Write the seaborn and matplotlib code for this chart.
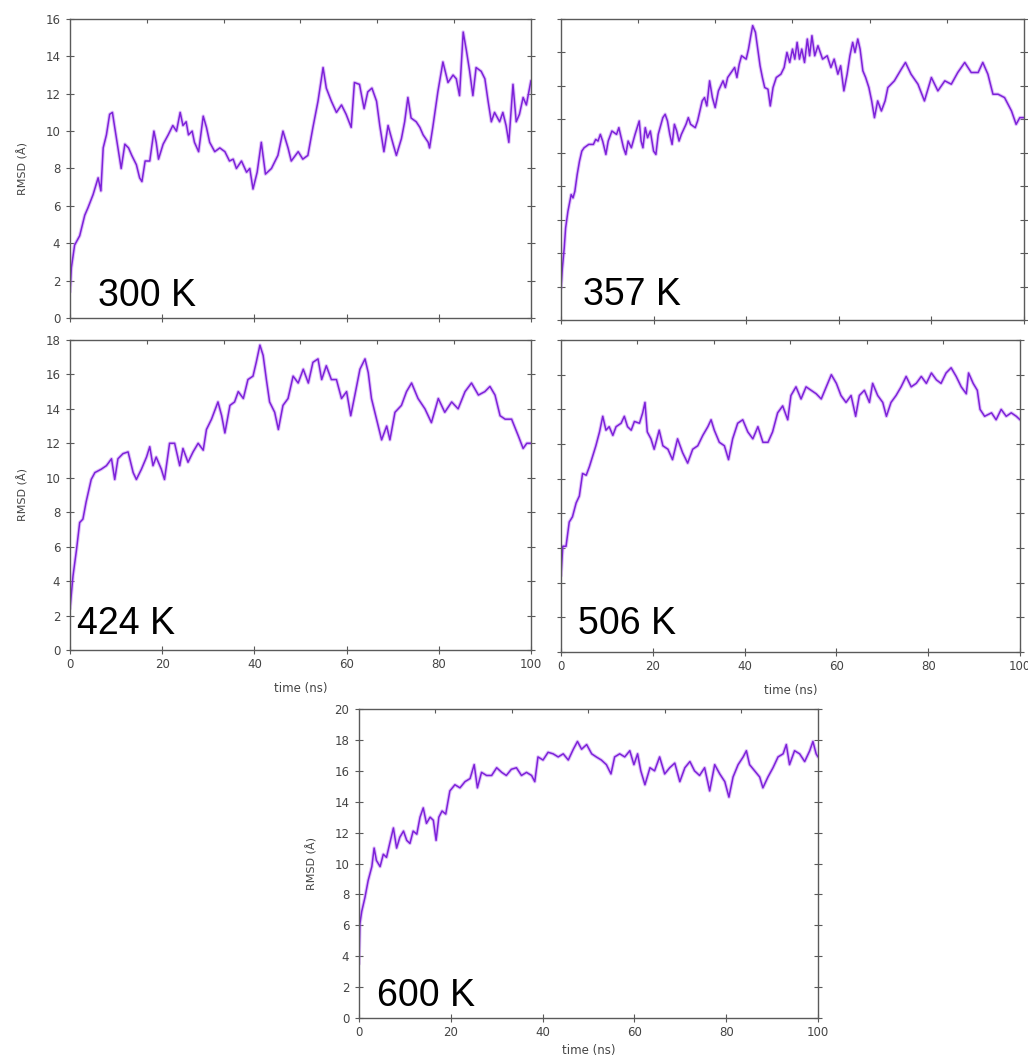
import matplotlib
matplotlib.use("Agg")
import matplotlib.pyplot as plt
import seaborn as sns

# ---- RMSD traces (time in ns, RMSD in Å) ----
t_300 = [0, 0.3, 1.0, 2.1, 3.2, 3.9, 5.0, 6.1, 6.7, 7.2, 7.9, 8.6, 9.2, 9.7, 10.4, 11.1, 11.9, 12.7,
         13.4, 14.4, 15.1, 15.6, 16.3, 17.3, 18.2, 18.7, 19.2, 20.2, 21.3, 22.3, 23.1, 23.9, 24.5,
         25.2, 25.7, 26.5, 27.0, 27.9, 28.9, 29.6, 30.3, 31.4, 32.5, 33.6, 34.6, 35.4, 36.1, 37.2,
         38.3, 39.0, 39.7, 40.6, 41.5, 42.4, 43.7, 45.1, 46.2, 47.3, 48.0, 49.5, 50.5, 51.6, 52.7,
         53.8, 54.9, 55.6, 56.7, 57.8, 58.9, 59.9, 61.0, 61.7, 62.8, 63.8, 64.6, 65.5, 66.5, 67.2,
         68.1, 69.0, 70.1, 70.8, 71.9, 72.6, 73.3, 74.0, 75.1, 75.9, 76.6, 77.7, 78.0, 78.7, 79.8,
         80.9, 82.0, 83.1, 83.8, 84.5, 85.3, 86.0, 86.7, 87.4, 88.1, 89.2, 90.0, 90.7, 91.4, 92.1,
         93.2, 93.9, 94.6, 95.2, 96.1, 96.8, 97.5, 98.3, 99.0, 100]
rmsd_300 = [1.4, 2.7, 3.9, 4.4, 5.5, 5.9, 6.6, 7.5, 6.8, 9.1, 9.8, 10.9, 11.0, 10.2, 9.1, 8.0, 9.3, 9.1,
            8.7, 8.2, 7.5, 7.3, 8.4, 8.4, 10.0, 9.4, 8.5, 9.3, 9.8, 10.3, 10.0, 11.0, 10.3,
            10.5, 9.8, 10.0, 9.4, 8.9, 10.8, 10.2, 9.4, 8.9, 9.1, 8.9, 8.4, 8.5, 8.0, 8.4,
            7.8, 8.0, 6.9, 7.8, 9.4, 7.7, 8.0, 8.7, 10.0, 9.1, 8.4, 8.9, 8.5, 8.7, 10.2,
            11.6, 13.4, 12.3, 11.6, 11.0, 11.4, 10.9, 10.2, 12.6, 12.5, 11.2, 12.1, 12.3, 11.6, 10.3,
            8.9, 10.3, 9.3, 8.7, 9.6, 10.5, 11.8, 10.7, 10.5, 10.2, 9.8, 9.4, 9.1, 10.2, 12.1,
            13.7, 12.6, 13.0, 12.8, 11.9, 15.3, 14.3, 13.2, 11.9, 13.4, 13.2, 12.8, 11.6, 10.5, 11.0,
            10.5, 11.0, 10.3, 9.4, 12.5, 10.5, 10.9, 11.8, 11.4, 12.7]

t_357 = [0, 0.3, 0.7, 1.0, 1.5, 2.2, 2.6, 3.0, 3.5, 4.0, 4.5, 5.0, 6.0, 7.0, 7.5, 8.0, 8.5, 9.0, 9.7,
         10.2, 11.0, 12.0, 12.5, 13.0, 13.5, 14.0, 14.5, 15.2, 16.0, 16.9, 17.3, 17.7, 18.2, 18.7,
         19.3, 20.0, 20.5, 21.0, 22.0, 22.5, 23.0, 23.5, 24.0, 24.5, 25.0, 25.5, 26.0, 27.0, 27.5,
         28.0, 29.0, 29.5, 30.0, 30.5, 31.0, 31.5, 32.1, 32.7, 33.3, 34.0, 35.0, 35.5, 36.0, 37.0,
         37.5, 38.0, 38.5, 39.0, 40.0, 40.5, 41.0, 41.4, 42.0, 42.5, 43.0, 43.5, 44.0, 44.7, 45.2,
         45.8, 46.5, 47.5, 48.2, 48.8, 49.4, 50.0, 50.5, 51.0, 51.5, 52.0, 52.6, 53.2, 53.7, 54.2,
         54.8, 55.5, 56.5, 57.5, 58.3, 59.0, 59.8, 60.4, 61.1, 61.8, 62.4, 63.0, 63.5, 64.1, 64.6,
         65.2, 65.8, 66.5, 67.1, 67.7, 68.4, 69.2, 70.0, 70.6, 72.0, 73.5, 74.4, 75.6, 77.1, 78.5,
         80.0, 81.4, 82.9, 84.3, 85.7, 87.2, 88.6, 90.1, 91.1, 92.2, 93.3, 94.4, 95.8, 97.3, 98.3,
         99.1, 100]
rmsd_357 = [1.9, 3.1, 4.3, 5.5, 6.5, 7.5, 7.3, 7.7, 8.7, 9.5, 10.1, 10.3, 10.5, 10.5, 10.8, 10.7, 11.1, 10.7, 9.9,
            10.7, 11.3, 11.1, 11.5, 10.9, 10.3, 9.9, 10.7, 10.3, 11.1, 11.9, 10.7, 10.3, 11.5, 10.9,
            11.3, 10.1, 9.9, 11.1, 12.1, 12.3, 11.9, 11.1, 10.5, 11.7, 11.3, 10.7, 11.1, 11.7, 12.1,
            11.7, 11.5, 11.9, 12.5, 13.1, 13.3, 12.8, 14.3, 13.3, 12.7, 13.7, 14.3, 13.9, 14.5, 14.9,
            15.1, 14.5, 15.3, 15.8, 15.6, 16.2, 17.0, 17.6, 17.2, 16.2, 15.2, 14.5, 13.9, 13.8, 12.8,
            13.9, 14.5, 14.7, 15.1, 16.0, 15.4, 16.2, 15.6, 16.6, 15.6, 16.2, 15.4, 16.8, 15.8, 17.0,
            15.8, 16.4, 15.6, 15.8, 15.1, 15.6, 14.7, 15.2, 13.7, 14.7, 15.8, 16.6, 16.0, 16.8, 16.2,
            14.9, 14.5, 13.9, 13.1, 12.1, 13.1, 12.5, 13.1, 13.9, 14.3, 15.0, 15.4, 14.7, 14.1, 13.1,
            14.5, 13.7, 14.3, 14.1, 14.8, 15.4, 14.8, 14.8, 15.4, 14.7, 13.5, 13.5, 13.3, 12.5, 11.7,
            12.1, 12.1]

t_424 = [0, 0.65, 1.4, 2.1, 2.8, 3.5, 4.6, 5.4, 6.8, 7.9, 9.0, 9.7, 10.4, 11.5, 12.6, 13.7, 14.4, 15.5,
         16.6, 17.3, 18.0, 18.7, 19.8, 20.5, 21.6, 22.7, 23.8, 24.5, 25.6, 26.7, 27.8, 28.9, 29.6,
         30.7, 32.1, 32.9, 33.6, 34.7, 35.7, 36.5, 37.6, 38.6, 39.7, 40.4, 41.2, 41.9, 42.6, 43.3,
         44.4, 45.2, 46.2, 47.3, 48.4, 49.5, 50.6, 51.7, 52.7, 53.8, 54.6, 55.6, 56.7, 57.8, 58.9,
         60.0, 60.9, 61.8, 62.9, 64.0, 64.7, 65.4, 66.5, 67.6, 68.7, 69.4, 70.5, 71.9, 73.0, 74.1,
         75.5, 77.0, 78.4, 79.9, 81.3, 82.8, 84.2, 85.7, 87.1, 88.6, 90.0, 91.1, 92.2, 93.3, 94.4,
         95.8, 97.3, 98.3, 99.1, 100]
rmsd_424 = [2.4, 4.3, 5.8, 7.4, 7.6, 8.6, 9.9, 10.3, 10.5, 10.7, 11.1, 9.9, 11.1, 11.4, 11.5, 10.3, 9.9, 10.5,
            11.2, 11.8, 10.7, 11.2, 10.5, 9.9, 12.0, 12.0, 10.7, 11.7, 10.9, 11.5, 12.0, 11.6, 12.8,
            13.4, 14.4, 13.6, 12.6, 14.2, 14.4, 15.0, 14.6, 15.7, 15.9, 16.7, 17.7, 17.1, 15.7, 14.4,
            13.8, 12.8, 14.2, 14.6, 15.9, 15.5, 16.3, 15.5, 16.7, 16.9, 15.7, 16.5, 15.7, 15.7, 14.6,
            15.0, 13.6, 14.8, 16.3, 16.9, 16.1, 14.6, 13.4, 12.2, 13.0, 12.2, 13.8, 14.2, 15.0, 15.5,
            14.6, 14.0, 13.2, 14.6, 13.8, 14.4, 14.0, 15.0, 15.5, 14.8, 15.0, 15.3, 14.8, 13.6, 13.4,
            13.4, 12.4, 11.7, 12.0, 12.0]

t_506 = [0, 0.4, 1.1, 1.8, 2.5, 3.3, 4.0, 4.7, 5.5, 6.2, 6.9, 7.6, 8.4, 9.1, 9.8, 10.5, 11.3, 12.0,
         13.1, 13.8, 14.5, 15.3, 16.0, 17.1, 17.8, 18.3, 18.8, 19.6, 20.3, 21.4, 22.2, 23.3, 24.3,
         25.4, 26.5, 27.6, 28.7, 29.8, 30.9, 32.0, 32.7, 33.4, 34.5, 35.6, 36.5, 37.4, 38.5, 39.6,
         40.7, 41.8, 42.9, 44.0, 45.1, 46.1, 47.2, 48.3, 49.4, 50.1, 51.2, 52.3, 53.4, 54.5, 55.6,
         56.7, 57.8, 58.9, 60.0, 61.0, 62.1, 63.2, 64.2, 65.0, 66.1, 67.2, 67.9, 69.0, 70.1, 70.9,
         71.9, 73.0, 74.1, 75.2, 76.3, 77.4, 78.5, 79.6, 80.7, 81.8, 82.8, 83.9, 85.0, 86.1, 87.2,
         88.3, 88.8, 89.8, 90.7, 91.3, 92.3, 93.8, 94.8, 95.9, 97.0, 98.1, 99.2, 100]
rmsd_506 = [4.4, 6.1, 6.1, 7.5, 7.8, 8.6, 9.0, 10.3, 10.2, 10.7, 11.3, 11.9, 12.7, 13.6, 12.8, 13.0, 12.5, 13.0,
            13.2, 13.6, 13.0, 12.8, 13.3, 13.2, 13.8, 14.4, 12.7, 12.3, 11.7, 12.8, 11.9, 11.7, 11.1,
            12.3, 11.5, 10.9, 11.7, 11.9, 12.5, 13.0, 13.4, 12.8, 12.1, 11.9, 11.1, 12.3, 13.2, 13.4,
            12.7, 12.3, 13.0, 12.1, 12.1, 12.7, 13.8, 14.2, 13.4, 14.8, 15.3, 14.6, 15.3, 15.1, 14.9,
            14.6, 15.3, 16.0, 15.5, 14.8, 14.4, 14.8, 13.6, 14.8, 15.1, 14.4, 15.5, 14.8, 14.4, 13.6,
            14.4, 14.8, 15.3, 15.9, 15.3, 15.5, 15.9, 15.5, 16.1, 15.7, 15.5, 16.1, 16.4, 15.9, 15.3,
            14.9, 16.1, 15.5, 15.1, 14.0, 13.6, 13.8, 13.4, 14.0, 13.6, 13.8, 13.6, 13.4]

t_600 = [0, 0.2, 0.6, 1.3, 2.0, 2.8, 3.3, 3.8, 4.6, 5.3, 6.0, 6.7, 7.5, 8.2, 8.9, 9.7, 10.4, 11.1,
         11.8, 12.6, 13.3, 14.0, 14.7, 15.5, 16.2, 16.8, 17.4, 18.1, 18.9, 19.8, 20.9, 22.0, 23.1,
         24.2, 25.1, 25.8, 26.7, 27.8, 28.9, 30.0, 31.1, 32.1, 33.2, 34.3, 35.4, 36.5, 37.6, 38.3,
         39.0, 40.1, 41.2, 42.3, 43.4, 44.5, 45.6, 46.7, 47.6, 48.5, 49.6, 50.7, 51.7, 52.8, 53.9,
         54.9, 55.7, 56.8, 57.9, 59.0, 59.9, 60.7, 61.4, 62.3, 63.4, 64.4, 65.5, 66.6, 67.7, 68.8,
         69.9, 71.0, 72.1, 73.1, 74.2, 75.3, 76.4, 77.5, 78.6, 79.7, 80.6, 81.5, 82.6, 83.7, 84.4,
         85.1, 86.2, 87.3, 88.0, 89.1, 90.2, 91.3, 92.4, 93.1, 93.8, 94.9, 96.0, 97.1, 98.2, 98.9,
         99.6, 100]
rmsd_600 = [3.5, 6.1, 6.9, 7.8, 8.9, 9.8, 11.0, 10.2, 9.8, 10.6, 10.4, 11.3, 12.3, 11.0, 11.7, 12.1, 11.5, 11.3,
            12.1, 11.9, 13.0, 13.6, 12.6, 13.0, 12.8, 11.5, 13.0, 13.4, 13.2, 14.7, 15.1, 14.9, 15.3,
            15.5, 16.4, 14.9, 15.9, 15.7, 15.7, 16.2, 15.9, 15.7, 16.1, 16.2, 15.7, 15.9, 15.7, 15.3,
            16.9, 16.7, 17.2, 17.1, 16.9, 17.1, 16.7, 17.4, 17.9, 17.4, 17.7, 17.1, 16.9, 16.7, 16.4,
            15.8, 16.9, 17.1, 16.9, 17.3, 16.4, 17.1, 16.0, 15.1, 16.2, 16.0, 16.9, 15.8, 16.2, 16.5,
            15.3, 16.2, 16.6, 16.0, 15.7, 16.2, 14.7, 16.4, 15.8, 15.3, 14.3, 15.6, 16.4, 16.9, 17.3,
            16.4, 16.0, 15.6, 14.9, 15.6, 16.2, 16.9, 17.1, 17.7, 16.4, 17.3, 17.1, 16.6, 17.3, 17.9,
            17.1, 16.9]

temperatures = ["300 K", "357 K", "424 K", "506 K", "600 K"]
y_max = [16, 18, 18, 18, 20]

sns.set_theme(style="ticks")
plt.rcParams["font.family"] = ["DejaVu Sans"]

fig = plt.figure(figsize=(10.28, 10.6), dpi=100)
fig.patch.set_facecolor("white")

# axes boxes in figure fractions, which labels to show, label anchor, x-label gap
layout = [
    ([0.0681, 0.7000, 0.4484, 0.2821], True, False, (0.061, 0.040), 8),
    ([0.5457, 0.6981, 0.4504, 0.2840], False, False, (0.048, 0.050), 8),
    ([0.0681, 0.3868, 0.4484, 0.2925], True, True, (0.015, 0.052), 8),
    ([0.5457, 0.3849, 0.4465, 0.2943], False, True, (0.037, 0.058), 8),
    ([0.3492, 0.0396, 0.4465, 0.2915], True, True, (0.039, 0.039), 3),
]
series = [(t_300, rmsd_300), (t_357, rmsd_357), (t_424, rmsd_424),
          (t_506, rmsd_506), (t_600, rmsd_600)]

frame_col = "#5a5a5a"
text_col = "#444444"

for (box, show_y, show_x, anchor, xpad), (tt, rr), label, ym in zip(layout, series, temperatures, y_max):
    ax = fig.add_axes(box)
    ax.set_facecolor("white")
    # soft halo plus darker core for the noisy trace
    sns.lineplot(x=tt, y=rr, ax=ax, color="#bb77f4", linewidth=2.6, alpha=0.45, errorbar=None)
    sns.lineplot(x=tt, y=rr, ax=ax, color="#7d22d9", linewidth=1.1, errorbar=None)
    ax.set_xlim(0, 100)
    ax.set_ylim(0, ym)
    ax.set_xticks(range(0, 101, 20))
    ax.set_yticks(range(0, ym + 1, 2))
    for sp in ax.spines.values():
        sp.set_visible(True)
        sp.set_color(frame_col)
        sp.set_linewidth(1.0)
    ax.tick_params(axis="both", direction="inout", length=6, width=0.8, color=frame_col,
                   labelcolor=text_col, labelsize=8.5, pad=3, right=True)
    ax.tick_params(axis="y", pad=4)
    top = ax.secondary_xaxis("top")
    top.set_xticks([100 / 6 * i for i in range(1, 6)])
    top.tick_params(direction="in", length=3, width=0.8, color=frame_col, labeltop=False)
    top.spines["top"].set_visible(False)

    if show_y:
        ax.set_ylabel("RMSD (Å)", fontsize=8, color=text_col, labelpad=12)
    else:
        ax.tick_params(axis="y", labelleft=False)
        ax.set_ylabel("")
    if show_x:
        ax.set_xlabel("time (ns)", fontsize=8.5, color=text_col, labelpad=xpad)
    else:
        ax.tick_params(axis="x", labelbottom=False)
        ax.set_xlabel("")

    ax.text(anchor[0], anchor[1], label, transform=ax.transAxes, fontsize=27,
            family="Liberation Sans", color="black", ha="left", va="baseline")

fig.savefig("out.png", dpi=100, facecolor="white")
